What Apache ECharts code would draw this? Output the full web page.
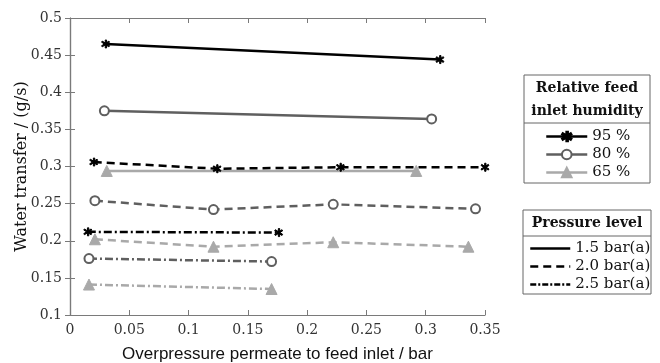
<!DOCTYPE html>
<html>
<head>
<meta charset="utf-8">
<script src="https://cdn.jsdelivr.net/npm/echarts@6/dist/echarts.min.js"></script>
<style>
html,body{margin:0;padding:0;background:#fff;}
#chart{width:660px;height:363px;}
</style>
</head>
<body>
<div id="chart"></div>
<script>
// measured points [overpressure bar, water transfer g/s]
var rh95_p15 = [[0.030, 0.465], [0.312, 0.444]];
var rh80_p15 = [[0.029, 0.375], [0.305, 0.364]];
var rh65_p15 = [[0.031, 0.294], [0.292, 0.294]];
var rh95_p20 = [[0.020, 0.306], [0.124, 0.297], [0.228, 0.299], [0.350, 0.299]];
var rh80_p20 = [[0.021, 0.254], [0.121, 0.242], [0.222, 0.249], [0.342, 0.243]];
var rh65_p20 = [[0.021, 0.202], [0.121, 0.192], [0.222, 0.198], [0.336, 0.192]];
var rh95_p25 = [[0.015, 0.212], [0.176, 0.211]];
var rh80_p25 = [[0.016, 0.176], [0.170, 0.172]];
var rh65_p25 = [[0.016, 0.141], [0.170, 0.135]];

var humidityNames = ['95 %', '80 %', '65 %'];
var pressureNames = ['1.5 bar(a)', '2.0 bar(a)', '2.5 bar(a)'];

var colors = {'95 %': '#000000', '80 %': '#5f5f5f', '65 %': '#a9a9a9'};
var dashes = {'1.5 bar(a)': 'solid', '2.0 bar(a)': [8, 5], '2.5 bar(a)': [8, 3, 2, 3]};
var legendDashes = {'1.5 bar(a)': 'solid', '2.0 bar(a)': [8, 5], '2.5 bar(a)': [6, 2, 2, 2]};
var starPath = 'path://M4.2,0L5.8,0L5.8,10L4.2,10Z M0.6,1.4L9.4,7.2L8.6,8.6L-0.2,2.8Z M-0.2,7.2L8.6,1.4L9.4,2.8L0.6,8.6Z';
var symbols = {'95 %': starPath, '80 %': 'emptyCircle', '65 %': 'triangle'};
var sizes = {'95 %': 8, '80 %': 9, '65 %': 11};

var serif = 'DejaVu Serif';

function makeSeries(hum, pres, data) {
	return {
		name: hum + ' ' + pres,
		type: 'line',
		data: data,
		symbol: symbols[hum],
		symbolSize: sizes[hum],
		showAllSymbol: true,
		lineStyle: {color: colors[hum], width: 2.5, type: dashes[pres]},
		itemStyle: {color: colors[hum], borderColor: colors[hum], borderWidth: hum == '80 %' ? 2 : 1},
		z: 3
	};
}

var series = [
	makeSeries('95 %', '1.5 bar(a)', rh95_p15),
	makeSeries('80 %', '1.5 bar(a)', rh80_p15),
	makeSeries('65 %', '1.5 bar(a)', rh65_p15),
	makeSeries('95 %', '2.0 bar(a)', rh95_p20),
	makeSeries('80 %', '2.0 bar(a)', rh80_p20),
	makeSeries('65 %', '2.0 bar(a)', rh65_p20),
	makeSeries('95 %', '2.5 bar(a)', rh95_p25),
	makeSeries('80 %', '2.5 bar(a)', rh80_p25),
	makeSeries('65 %', '2.5 bar(a)', rh65_p25)
];
// empty series only used for the two legend boxes
humidityNames.forEach(function(h) {
	series.push({
		name: h, type: 'line', data: [],
		symbol: symbols[h], symbolSize: sizes[h] - 2,
		lineStyle: {color: colors[h], width: 2.5},
		itemStyle: {color: colors[h], borderColor: colors[h], borderWidth: h == '80 %' ? 2 : 1}
	});
});
pressureNames.forEach(function(p) {
	series.push({
		name: p, type: 'line', data: [], symbol: 'none',
		lineStyle: {color: '#000', width: 2.5, type: legendDashes[p]},
		itemStyle: {color: '#000'}
	});
});

var tickLabel = {fontFamily: serif, fontSize: 14, color: '#333'};
var axisLine = {show: true, lineStyle: {color: '#7a7a7a', width: 1.2}};
var axisTick = {show: true, inside: true, length: 5, lineStyle: {color: '#7a7a7a'}};

var myChart = echarts.init(document.getElementById('chart'));
var option = {
	animation: false,
	backgroundColor: '#fff',
	grid: {left: 70, right: 175, top: 18, bottom: 48, containLabel: false, outerBoundsMode: 'none'},
	xAxis: [{
		type: 'value', min: 0, max: 0.35, interval: 0.05,
		name: 'Overpressure permeate to feed inlet / bar',
		nameLocation: 'middle', nameGap: 31,
		nameTextStyle: {fontFamily: 'Liberation Sans', fontSize: 17, color: '#111'},
		axisLine: axisLine, axisTick: axisTick,
		axisLabel: tickLabel, splitLine: {show: false}
	}, {
		type: 'value', position: 'top', min: 0, max: 0.35, interval: 0.05,
		axisLine: axisLine, axisTick: axisTick,
		axisLabel: {show: false}, splitLine: {show: false}
	}],
	yAxis: [{
		type: 'value', min: 0.1, max: 0.5, interval: 0.05,
		name: 'Water transfer / (g/s)',
		nameLocation: 'middle', nameGap: 40, nameMoveOverlap: false,
		nameTextStyle: {fontFamily: serif, fontSize: 16, color: '#111'},
		axisLine: axisLine, axisTick: axisTick,
		axisLabel: tickLabel, splitLine: {show: false}
	}, {
		type: 'value', position: 'right', min: 0.1, max: 0.5, interval: 0.05,
		axisLine: axisLine, axisTick: axisTick,
		axisLabel: {show: false}, splitLine: {show: false}
	}],
	legend: [{
		data: humidityNames,
		orient: 'vertical', left: 545, top: 129, padding: 0,
		itemWidth: 41, itemHeight: 12, itemGap: 3,
		lineStyle: {width: 2.5},
		textStyle: {fontFamily: serif, fontSize: 15, color: '#111'},
		selectedMode: false
	}, {
		data: pressureNames,
		orient: 'vertical', left: 529, top: 241, padding: 0,
		itemWidth: 40, itemHeight: 12, itemGap: 3,
		itemStyle: {opacity: 0},
		lineStyle: {width: 2.5},
		textStyle: {fontFamily: serif, fontSize: 15, color: '#111'},
		selectedMode: false
	}],
	graphic: [
		{type: 'rect', shape: {x: 524, y: 75, width: 126, height: 108}, style: {fill: 'none', stroke: '#666', lineWidth: 1}},
		{type: 'line', shape: {x1: 524, y1: 123, x2: 650, y2: 123}, style: {stroke: '#666', lineWidth: 1}},
		{type: 'text', x: 587, y: 88, style: {text: 'Relative feed', fontFamily: serif, fontSize: 14, fontWeight: 'bold', fill: '#111', align: 'center', verticalAlign: 'middle'}},
		{type: 'text', x: 587, y: 111, style: {text: 'inlet humidity', fontFamily: serif, fontSize: 14, fontWeight: 'bold', fill: '#111', align: 'center', verticalAlign: 'middle'}},
		{type: 'rect', shape: {x: 523, y: 210, width: 128, height: 84}, style: {fill: 'none', stroke: '#666', lineWidth: 1}},
		{type: 'line', shape: {x1: 523, y1: 236, x2: 651, y2: 236}, style: {stroke: '#666', lineWidth: 1}},
		{type: 'text', x: 587, y: 223, style: {text: 'Pressure level', fontFamily: serif, fontSize: 14, fontWeight: 'bold', fill: '#111', align: 'center', verticalAlign: 'middle'}}
	],
	series: series
};
myChart.setOption(option);
</script>
</body>
</html>
